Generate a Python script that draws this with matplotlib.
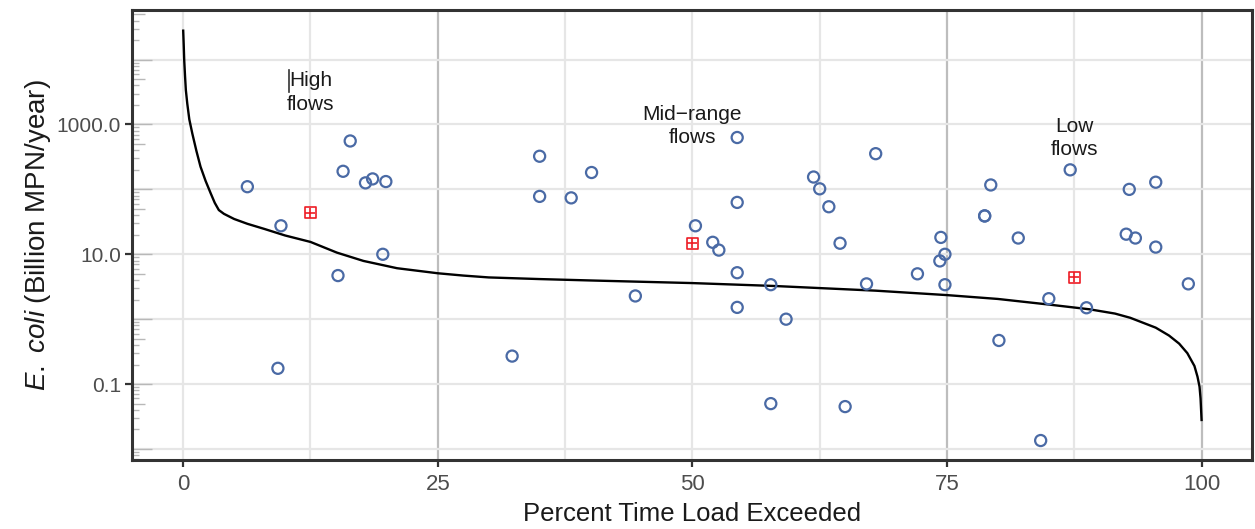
import numpy as np
import matplotlib
matplotlib.use("Agg")
import matplotlib.pyplot as plt
from matplotlib import font_manager

# ---------------- data ----------------
# load duration curve (percent time exceeded, load in billion MPN/year)
curve_x = [0, 0.05, 0.1, 0.18, 0.26, 0.4, 0.6, 0.9, 1.3, 1.7, 2.2, 2.7, 3.1, 3.5, 4.0,
           5.0, 6.3, 8.0, 10.0, 12.5, 15.1, 17.7, 21, 25, 27.5, 30, 35, 40, 50, 58,
           68, 75, 80, 85, 89, 91.5, 93, 95.5, 96.8, 97.8, 98.6, 99.3, 99.6, 99.8,
           99.9, 100]
curve_y = [27900, 17000, 9800, 5600, 3400, 2100, 1200, 720, 390, 224, 135, 87, 62, 48, 42,
           35, 29.5, 24.5, 19.5, 15.5, 10.6, 7.9, 6.1, 5.1, 4.7, 4.4, 4.15, 3.95, 3.6, 3.25,
           2.75, 2.35, 2.05, 1.68, 1.42, 1.22, 1.05, 0.74, 0.56, 0.42, 0.30, 0.19, 0.13,
           0.091, 0.06, 0.028]

# observed loads (blue open circles)
obs_x = [6.3, 9.6, 16.4, 15.7, 17.9, 18.6, 19.9, 19.6, 15.2, 9.3,
         35.0, 35.0, 38.1, 40.1, 54.4, 54.4, 50.3, 68.0, 61.9, 62.5, 63.4, 52.0,
         52.6, 54.4, 57.7, 54.4, 59.2, 44.4, 32.3, 57.7, 65.0, 64.5, 67.1,
         87.1, 79.3, 78.7, 78.7, 92.9, 95.5, 74.4, 74.8, 74.3, 72.1, 74.8, 82.0,
         92.6, 93.5, 95.5, 98.7, 85.0, 88.7, 80.1, 84.2]
obs_y = [110, 27.5, 557, 190, 126, 145, 132, 10.0, 4.7, 0.175,
         324, 78, 74, 182, 630, 63, 27.5, 355, 155, 102, 54, 15.3,
         11.6, 5.2, 3.4, 1.52, 1.0, 2.28, 0.27, 0.050, 0.045, 14.8, 3.5,
         200, 117, 39, 39, 100, 129, 18.2, 10.0, 7.9, 5.0, 3.4, 17.8,
         20.4, 17.8, 12.9, 3.5, 2.07, 1.50, 0.47, 0.0135]

# regime summary loads (red square-plus)
reg_x = [12.5, 50.0, 87.5]
reg_y = [43.7, 14.8, 4.4]

# flow regime labels
regime_labels = ["High\nflows", "Mid\u2212range\nflows", "Low\nflows"]
regime_label_x = [12.5, 50.0, 87.5]
regime_label_y = [3100, 950, 620]

x_ticks = [0, 25, 50, 75, 100]
y_ticks = [0.1, 10.0, 1000.0]

# ---------------- style ----------------
names = {f.name for f in font_manager.fontManager.ttflist}
base_font = "Liberation Sans" if "Liberation Sans" in names else "DejaVu Sans"
plt.rcParams["font.family"] = [base_font, "DejaVu Sans"]
plt.rcParams["mathtext.fontset"] = "custom"
plt.rcParams["mathtext.it"] = base_font + ":italic"
plt.rcParams["mathtext.rm"] = base_font

W, H, DPI = 12.55, 5.29, 100
fig = plt.figure(figsize=(W, H), dpi=DPI)
ax = fig.add_axes([0.1054, 0.1304, 0.998 - 0.1054, 0.9811 - 0.1304])

ax.set_yscale("log")
ax.set_xlim(-5, 105)
ax.set_ylim(10 ** -2.17, 10 ** 4.764)

# gridlines
light = "#e6e6e6"
dark = "#bdbdbd"
for xv in [0, 12.5, 37.5, 50, 62.5, 87.5]:
    ax.axvline(xv, color=light, lw=1.6, zorder=0)
for xv in [25, 75, 100]:
    ax.axvline(xv, color=dark, lw=1.6, zorder=0)
for k in range(-2, 5):
    ax.axhline(10.0 ** k, color=light, lw=1.6, zorder=0)

# log ticks inside left edge (annotation_logticks style)
ax_w_px = (0.998 - 0.1054) * W * DPI
ytr = ax.get_yaxis_transform()
for k in range(-3, 5):
    for m in range(1, 10):
        yv = m * 10.0 ** k
        L = 19.5 if m == 1 else (13 if m == 5 else 6.5)
        ax.plot([0, L / ax_w_px], [yv, yv], transform=ytr, color="#b8b8b8",
                lw=1.0, zorder=1, clip_on=True, solid_capstyle="butt")

# curve
ax.plot(curve_x, curve_y, color="black", lw=1.7, zorder=3,
        solid_joinstyle="round")

# observations
ax.scatter(obs_x, obs_y, s=8.0 ** 2, facecolors="none", edgecolors="#4a6aa5",
           linewidths=1.6, zorder=4)
# regime markers (square with plus)
ax.scatter(reg_x, reg_y, s=7.8 ** 2, marker="s", facecolors="none",
           edgecolors="#ee1c25", linewidths=1.2, zorder=5)
ax.scatter(reg_x, reg_y, s=7.8 ** 2, marker="+", color="#ee1c25",
           linewidths=1.2, zorder=5)

for t, xv, yv in zip(regime_labels, regime_label_x, regime_label_y):
    ax.text(xv, yv, t, ha="center", va="center", fontsize=15,
            color="#1a1a1a", linespacing=1.3, zorder=6)
# small cursor mark left of "High"
ax.plot([0.140, 0.140], [0.867, 0.818], transform=ax.transAxes,
        color="#333333", lw=1.2, zorder=6)

# ticks
ax.set_xticks(x_ticks)
ax.set_xticklabels([str(v) for v in x_ticks])
ax.set_yticks(y_ticks)
ax.set_yticklabels(["%.1f" % v for v in y_ticks])
ax.yaxis.set_minor_locator(matplotlib.ticker.NullLocator())
ax.tick_params(axis="both", which="major", direction="out", length=5, width=1.6,
               color="#333333", labelcolor="#4d4d4d", labelsize=15, pad=3)
ax.tick_params(axis="x", labelsize=16, pad=5)

for sp in ax.spines.values():
    sp.set_linewidth(2.2)
    sp.set_color("#333333")

ax.set_xlabel("Percent Time Load Exceeded", fontsize=18.5, color="#1a1a1a",
              labelpad=5)
ax.set_ylabel(r"$\it{E.\ coli}$ (Billion MPN/year)", fontsize=20, color="#1a1a1a",
              labelpad=3)

fig.savefig("out.png", dpi=DPI)
